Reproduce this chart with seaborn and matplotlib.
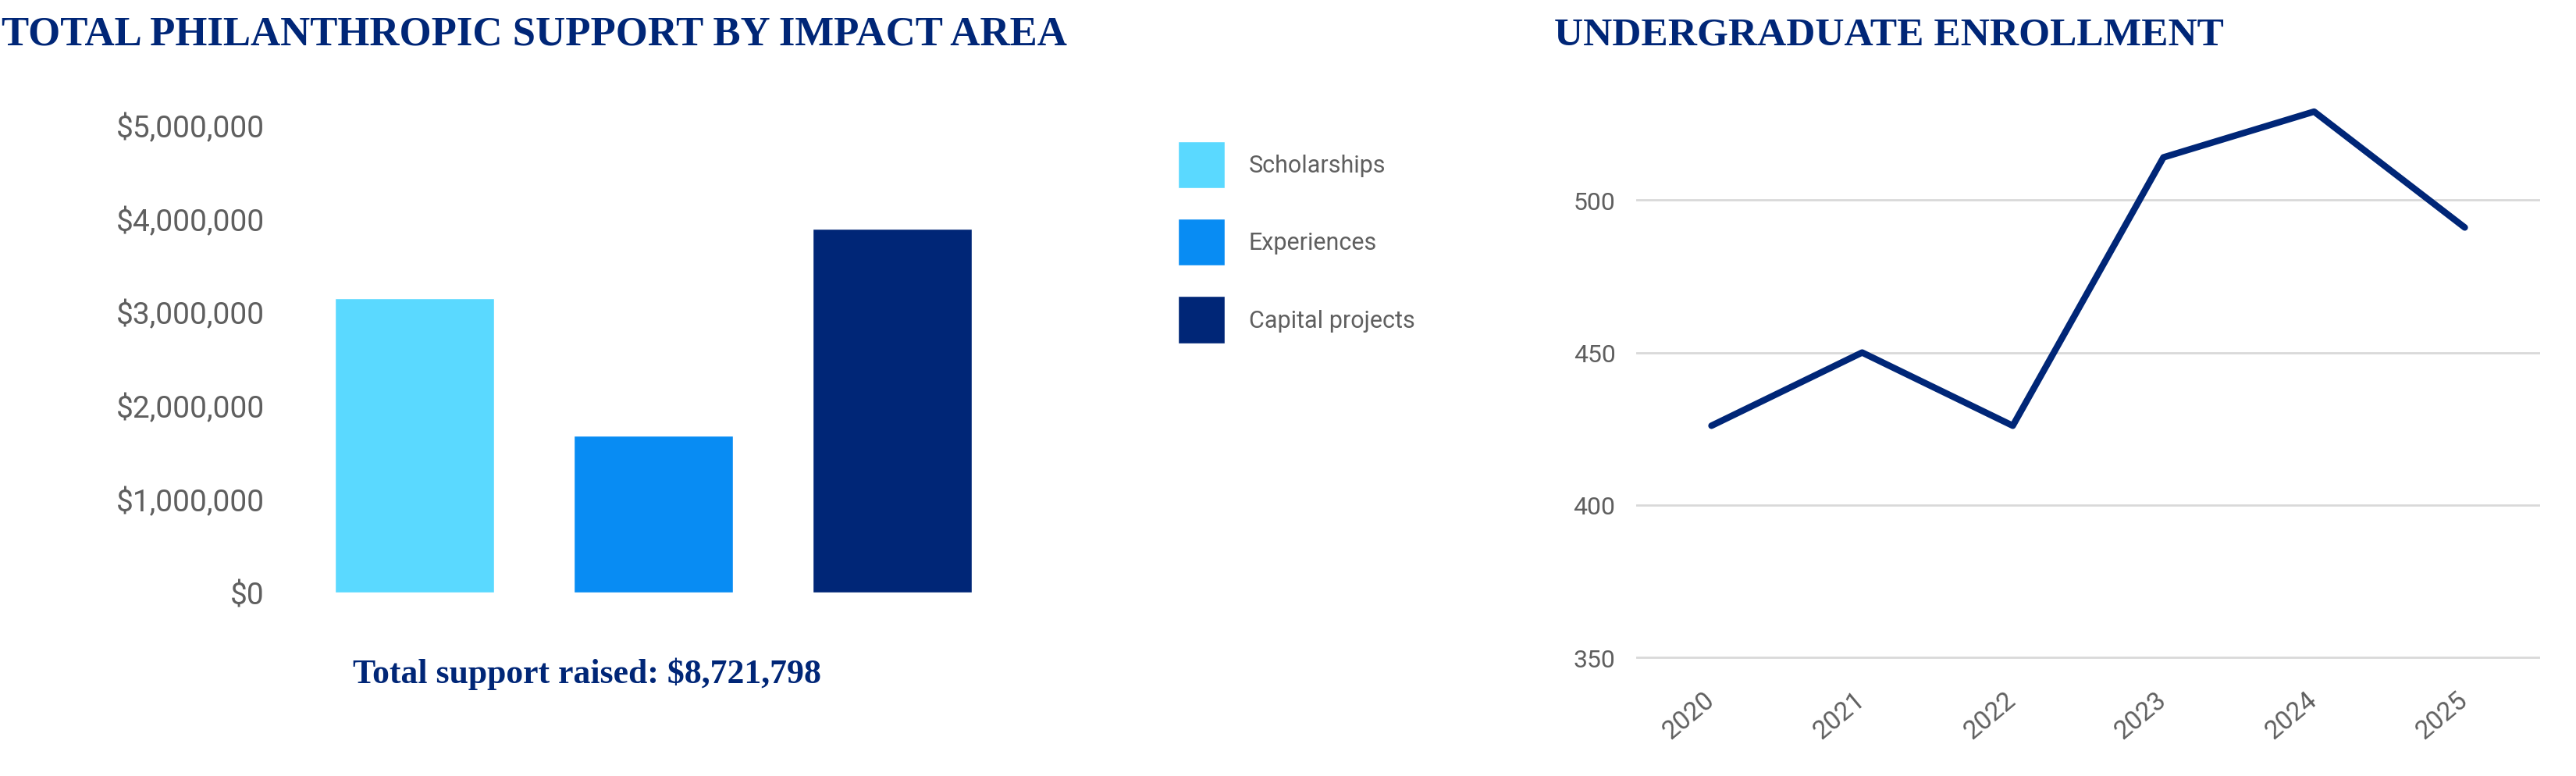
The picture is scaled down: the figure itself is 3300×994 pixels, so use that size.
import matplotlib
matplotlib.use("Agg")
import matplotlib.pyplot as plt
import seaborn as sns
import pandas as pd

# data
areas = ["Scholarships", "Experiences", "Capital projects"]
amounts = [3150000, 1680000, 3891798]
area_colors = ["#5AD9FF", "#088CF3", "#002677"]

years = [2020, 2021, 2022, 2023, 2024, 2025]
enrollment = [426, 450, 426, 514, 529, 491]

total_label = "Total support raised: $8,721,798"

navy = "#002677"
grey = "#5f5f5f"

sns.set_theme(style="white")
plt.rcParams["font.family"] = ["Roboto", "DejaVu Sans"]

W, H = 3300, 995
fig = plt.figure(figsize=(W / 100, H / 100), dpi=100)

def box(x0, y_top, x1, y_bot):
    return [x0 / W, 1 - y_bot / H, (x1 - x0) / W, (y_bot - y_top) / H]

# ---- bar chart
ax1 = fig.add_axes(box(378, 161, 1296, 760))
df_bar = pd.DataFrame({"area": areas, "amount": amounts})
sns.barplot(data=df_bar, x="area", y="amount", hue="area", palette=area_colors,
            width=0.667, saturation=1, legend=True, ax=ax1)
ax1.set_xlim(-0.5, 2.5)
ax1.set_ylim(0, 5000000)
ax1.set_yticks([0, 1000000, 2000000, 3000000, 4000000, 5000000])
ax1.set_yticklabels(["$0", "$1,000,000", "$2,000,000", "$3,000,000", "$4,000,000", "$5,000,000"])
ax1.set_xticks([])
ax1.set_xlabel("")
ax1.set_ylabel("")
ax1.tick_params(axis="y", length=0, pad=28, labelsize=28, labelcolor=grey)
sns.despine(ax=ax1, left=True, bottom=True)

handles, labels = ax1.get_legend_handles_labels()
ax1.get_legend().remove()
leg = fig.legend(handles, labels, loc="upper left",
                 bbox_to_anchor=(1509 / W, 1 - 182 / H),
                 frameon=False, fontsize=22, borderpad=0, borderaxespad=0,
                 handlelength=1.97, handleheight=2.65, handletextpad=1.0,
                 labelspacing=1.28)
for t in leg.get_texts():
    t.set_color(grey)

# ---- line chart
ax2 = fig.add_axes(box(2096, 101, 3254, 851))
df_line = pd.DataFrame({"year": years, "students": enrollment})
sns.lineplot(data=df_line, x="year", y="students", color=navy, linewidth=6,
             ax=ax2)
ax2.set_xlim(2019.5, 2025.5)
ax2.set_ylim(348, 540)
ax2.set_yticks([350, 400, 450, 500])
ax2.set_xticks(years)
ax2.set_xticklabels([str(y) for y in years])
ax2.set_xlabel("")
ax2.set_ylabel("")
ax2.yaxis.grid(True, color="#d9d9d9", linewidth=2)
ax2.set_axisbelow(True)
ax2.tick_params(axis="y", length=0, pad=19, labelsize=23, labelcolor=grey)
ax2.tick_params(axis="x", length=0, pad=30, labelsize=24, labelcolor=grey)
for lab in ax2.get_xticklabels():
    lab.set_rotation(40)
    lab.set_ha("right")
    lab.set_va("center")
    lab.set_rotation_mode("anchor")
sns.despine(ax=ax2, left=True, bottom=True)

# ---- titles and note
serif = ["Liberation Serif", "DejaVu Serif"]
fig.text(2 / W, 1 - 58 / H, "TOTAL PHILANTHROPIC SUPPORT BY IMPACT AREA",
         family=serif, fontweight="bold", fontsize=38, color=navy, va="baseline")
fig.text(1991 / W, 1 - 58 / H, "UNDERGRADUATE ENROLLMENT",
         family=serif, fontweight="bold", fontsize=37, color=navy, va="baseline")
fig.text(452 / W, 1 - 875 / H, total_label,
         family=serif, fontweight="bold", fontsize=31.5, color=navy, va="baseline")

fig.savefig("out.png", dpi=100, facecolor="white")
